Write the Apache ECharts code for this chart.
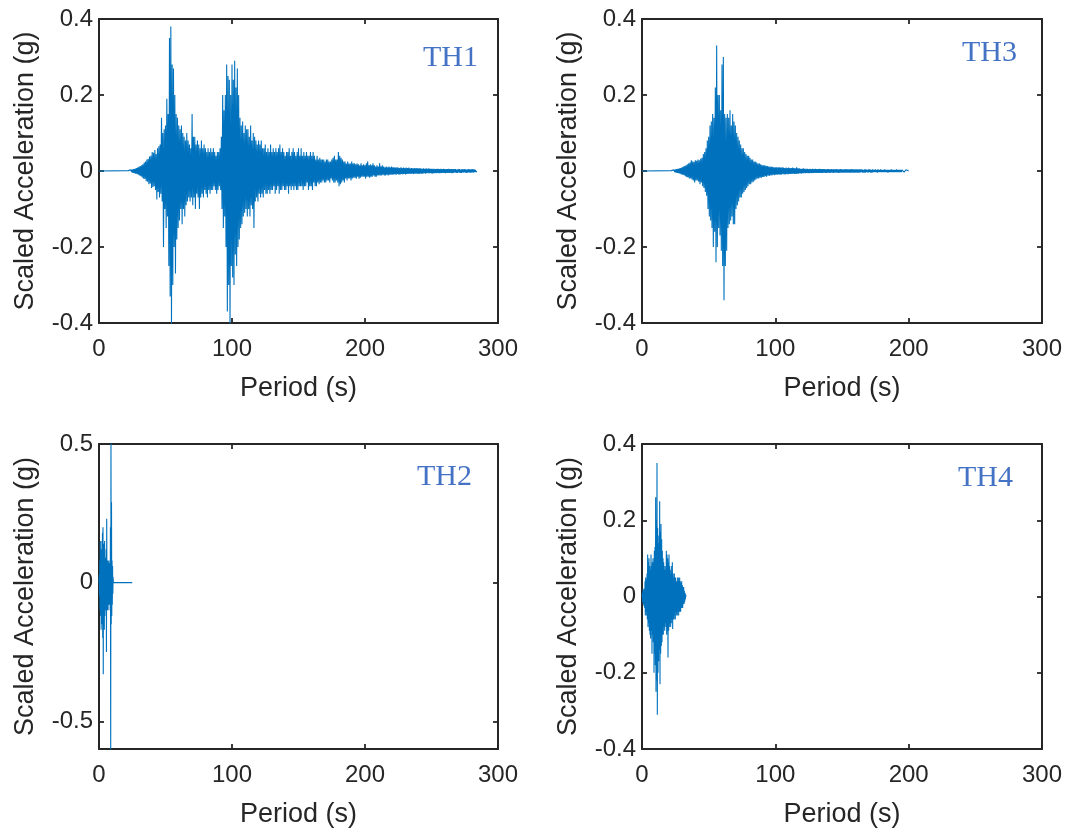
<!DOCTYPE html>
<html><head><meta charset="utf-8">
<script src="https://cdn.jsdelivr.net/npm/echarts@6/dist/echarts.min.js"></script>
<style>html,body{margin:0;padding:0;background:#fff}#c{width:1085px;height:829px}</style>
</head><body><div id="c"></div>
<script>
// ---------- data ----------
const panelNames = ['TH1', 'TH2', 'TH3', 'TH4'];
const xAxisTitle = 'Period (s)';
const yAxisTitle = 'Scaled Acceleration (g)';
const xTicks = [0, 100, 200, 300];
const yTicks04 = [-0.4, -0.2, 0, 0.2, 0.4];
const yTicksTH2 = [-0.5, 0, 0.5];

// TH1: quiet (0 g) until onset, then one sample per 0.5 s, t = 22 .. 284 s
const th1Onset = 22;
const th1Dt = 0.5;
const th1Values = [
  0.001,-0.002,0.002,-0.003,0.003,-0.003,0.004,-0.005,0.005,-0.006,0.006,-0.007,0.008,-0.008,0.009,-0.01,0.011,-0.012,0.013,-0.014,
  0.015,-0.017,0.018,-0.02,0.022,-0.021,0.025,-0.027,0.03,-0.028,0.032,-0.035,0.038,-0.033,0.04,-0.045,0.05,-0.042,0.048,-0.04,
  0.055,-0.05,0.045,-0.075,0.06,-0.055,0.065,-0.07,0.07,-0.06,0.14,-0.08,0.1,-0.2,0.11,-0.1,0.12,-0.15,0.19,-0.12,
  0.15,-0.25,0.35,-0.33,0.38,-0.41,0.28,-0.3,0.27,-0.2,0.2,-0.27,0.15,-0.18,0.14,-0.15,0.12,-0.13,0.11,-0.1,
  0.12,-0.14,0.1,-0.1,0.09,-0.12,0.08,-0.09,0.1,-0.08,0.08,-0.07,0.07,-0.08,0.06,-0.07,0.15,-0.09,0.09,-0.07,
  0.09,-0.1,0.07,-0.06,0.08,-0.07,0.07,-0.1,0.06,-0.07,0.08,-0.06,0.06,-0.07,0.07,-0.05,0.06,-0.06,0.05,-0.07,
  0.06,-0.05,0.05,-0.06,0.06,-0.05,0.05,-0.05,0.06,-0.04,0.05,-0.05,0.04,-0.06,0.05,-0.05,0.05,-0.04,0.06,-0.05,
  0.09,-0.1,0.2,-0.15,0.16,-0.12,0.2,-0.2,0.28,-0.37,0.25,-0.3,0.24,-0.41,0.2,-0.25,0.28,-0.28,0.24,-0.3,
  0.29,-0.22,0.22,-0.25,0.27,-0.2,0.2,-0.18,0.14,-0.15,0.12,-0.14,0.13,-0.12,0.1,-0.11,0.12,-0.1,0.11,-0.12,
  0.11,-0.1,0.09,-0.12,0.12,-0.09,0.08,-0.1,0.1,-0.15,0.09,-0.08,0.08,-0.07,0.07,-0.08,0.08,-0.06,0.07,-0.07,
  0.08,-0.06,0.06,-0.07,0.06,-0.05,0.07,-0.06,0.05,-0.06,0.06,-0.05,0.05,-0.06,0.07,-0.05,0.05,-0.05,0.06,-0.04,
  0.05,-0.06,0.06,-0.05,0.05,-0.04,0.06,-0.06,0.07,-0.05,0.05,-0.05,0.06,-0.04,0.05,-0.05,0.04,-0.05,0.05,-0.04,
  0.05,-0.06,0.06,-0.04,0.04,-0.05,0.05,-0.04,0.06,-0.05,0.05,-0.04,0.04,-0.05,0.05,-0.05,0.06,-0.04,0.04,-0.04,
  0.06,-0.04,0.04,-0.05,0.05,-0.04,0.04,-0.04,0.05,-0.03,0.04,-0.05,0.04,-0.04,0.05,-0.04,0.04,-0.05,0.05,-0.03,
  0.04,-0.04,0.03,-0.04,0.04,-0.03,0.03,-0.035,0.035,-0.03,0.03,-0.03,0.03,-0.025,0.03,-0.03,0.025,-0.03,0.03,-0.025,
  0.03,-0.025,0.025,-0.03,0.025,-0.02,0.03,-0.025,0.035,-0.03,0.04,-0.03,0.03,-0.025,0.03,-0.03,0.05,-0.04,0.04,-0.035,
  0.035,-0.03,0.03,-0.025,0.025,-0.03,0.025,-0.02,0.02,-0.025,0.025,-0.02,0.02,-0.02,0.02,-0.025,0.025,-0.02,0.02,-0.018,
  0.02,-0.018,0.018,-0.02,0.02,-0.015,0.018,-0.02,0.015,-0.018,0.02,-0.015,0.015,-0.015,0.018,-0.015,0.015,-0.02,0.02,-0.015,
  0.025,-0.015,0.015,-0.018,0.018,-0.015,0.015,-0.015,0.02,-0.012,0.015,-0.015,0.012,-0.015,0.015,-0.012,0.012,-0.012,0.02,-0.012,
  0.012,-0.012,0.015,-0.01,0.012,-0.012,0.01,-0.012,0.012,-0.01,0.01,-0.012,0.012,-0.01,0.01,-0.01,0.012,-0.01,0.01,-0.009,
  0.01,-0.009,0.009,-0.01,0.01,-0.008,0.009,-0.01,0.008,-0.009,0.01,-0.008,0.008,-0.009,0.009,-0.008,0.008,-0.009,0.009,-0.008,
  0.008,-0.008,0.009,-0.007,0.007,-0.008,0.008,-0.007,0.007,-0.008,0.008,-0.007,0.007,-0.007,0.008,-0.007,0.007,-0.008,0.007,-0.007,
  0.007,-0.007,0.006,-0.007,0.007,-0.006,0.006,-0.007,0.007,-0.006,0.006,-0.006,0.007,-0.006,0.006,-0.006,0.006,-0.007,0.006,-0.006,
  0.006,-0.006,0.005,-0.006,0.006,-0.005,0.006,-0.006,0.005,-0.006,0.006,-0.005,0.005,-0.005,0.006,-0.005,0.005,-0.006,0.005,-0.005,
  0.005,-0.005,0.006,-0.005,0.005,-0.005,0.005,-0.006,0.005,-0.005,0.005,-0.004,0.005,-0.005,0.004,-0.005,0.005,-0.004,0.005,-0.005,
  0.004,-0.005,0.005,-0.004,0.004,-0.004,0.005,-0.004,0.004,-0.005,0.004,-0.004,0.005,-0.004,0.004,-0.004,0.004,-0.004,0.005,-0.004,
  0.004,-0.003,0.003,-0.003,0
];

// TH2: one sample per 0.2 s, t = 0 .. 10.8 s, then quiet record to 25 s
const th2Dt = 0.2;
const th2Values = [
  0,0.03,-0.05,0.08,-0.1,0.15,-0.12,0.1,-0.17,0.12,
  -0.1,0.15,-0.15,0.18,-0.2,0.2,-0.33,0.14,-0.12,0.1,
  -0.17,0.15,-0.12,0.08,-0.1,0.09,-0.08,0.12,-0.25,0.23,
  -0.1,0.08,-0.09,0.07,-0.1,0.08,-0.06,0.07,-0.08,0.06,
  -0.07,0.08,-0.1,0.2,-0.65,0.55,-0.15,0.29,-0.12,0.08,
  -0.08,0.06,-0.04,0.02,0
];
const th2RecordEnd = 25;

// TH3: quiet (0 g) until onset, then one sample per 0.5 s, t = 22 .. 200 s
const th3Onset = 22;
const th3Dt = 0.5;
const th3Values = [
  0.001,-0.002,0.002,-0.002,0.003,-0.003,0.004,-0.004,0.005,-0.005,0.006,-0.006,0.007,-0.007,0.008,-0.009,0.01,-0.01,0.012,-0.011,
  0.013,-0.014,0.015,-0.016,0.018,-0.017,0.02,-0.02,0.022,-0.02,0.028,-0.022,0.025,-0.025,0.024,-0.03,0.028,-0.025,0.027,-0.025,
  0.03,-0.028,0.028,-0.035,0.032,-0.03,0.035,-0.04,0.045,-0.045,0.05,-0.055,0.06,-0.065,0.08,-0.1,0.09,-0.12,0.12,-0.13,
  0.13,-0.15,0.15,-0.2,0.14,-0.16,0.22,-0.24,0.33,-0.2,0.2,-0.15,0.2,-0.17,0.16,-0.21,0.28,-0.25,0.3,-0.34,
  0.15,-0.25,0.14,-0.21,0.15,-0.15,0.14,-0.14,0.16,-0.13,0.12,-0.12,0.15,-0.14,0.13,-0.14,0.12,-0.1,0.1,-0.09,
  0.09,-0.08,0.08,-0.07,0.07,-0.07,0.06,-0.06,0.06,-0.055,0.05,-0.05,0.045,-0.045,0.04,-0.04,0.04,-0.035,0.035,-0.035,
  0.03,-0.03,0.03,-0.028,0.025,-0.025,0.025,-0.022,0.022,-0.02,0.02,-0.02,0.02,-0.018,0.018,-0.018,0.016,-0.016,0.015,-0.016,
  0.015,-0.014,0.014,-0.015,0.013,-0.012,0.012,-0.013,0.012,-0.011,0.011,-0.012,0.011,-0.01,0.01,-0.011,0.01,-0.01,0.01,-0.01,
  0.01,-0.009,0.01,-0.01,0.009,-0.01,0.01,-0.008,0.009,-0.009,0.008,-0.009,0.009,-0.008,0.008,-0.009,0.009,-0.008,0.008,-0.008,
  0.008,-0.008,0.009,-0.007,0.008,-0.008,0.007,-0.008,0.01,-0.007,0.007,-0.007,0.007,-0.006,0.006,-0.007,0.006,-0.006,0.007,-0.006,
  0.006,-0.006,0.006,-0.005,0.006,-0.006,0.005,-0.006,0.006,-0.005,0.005,-0.006,0.006,-0.005,0.005,-0.005,0.006,-0.005,0.005,-0.005,
  0.005,-0.005,0.006,-0.005,0.005,-0.005,0.005,-0.005,0.005,-0.004,0.005,-0.005,0.004,-0.005,0.005,-0.004,0.005,-0.005,0.004,-0.004,
  0.005,-0.004,0.004,-0.005,0.005,-0.004,0.004,-0.004,0.005,-0.004,0.004,-0.005,0.004,-0.004,0.005,-0.004,0.004,-0.004,0.004,-0.004,
  0.004,-0.004,0.005,-0.004,0.004,-0.004,0.004,-0.004,0.004,-0.004,0.005,-0.004,0.004,-0.004,0.004,-0.004,0.004,-0.004,0.004,-0.004,
  0.004,-0.004,0.004,-0.004,0.004,-0.003,0.004,-0.004,0.003,-0.004,0.004,-0.004,0.004,-0.003,0.003,-0.004,0.004,-0.003,0.004,-0.004,
  0.003,-0.004,0.004,-0.003,0.003,-0.003,0.004,-0.003,0.003,-0.004,0.004,-0.003,0.003,-0.003,0.004,-0.003,0.003,-0.003,0.003,-0.003,
  0.004,-0.003,0.003,-0.003,0.003,-0.004,0.003,-0.003,0.003,-0.003,0.004,-0.003,0.003,-0.003,0.003,-0.003,0.003,-0.003,0.004,-0.003,
  0.003,-0.003,0.003,-0.003,0.003,-0.003,0.003,-0.002,0.003,-0.003,0.002,-0.003,0.003,-0.002,0.002,-0.002,0
];

// TH4: one sample per 0.25 s, t = 0 .. 33 s
const th4Dt = 0.25;
const th4Values = [
  0,0.01,-0.015,0.02,-0.02,0.015,-0.025,0.02,
  -0.03,0.04,-0.05,0.05,-0.04,0.045,-0.05,0.06,
  -0.06,0.11,-0.08,0.09,-0.07,0.1,-0.09,0.08,
  -0.1,0.07,-0.11,0.11,-0.09,0.08,-0.15,0.09,
  -0.1,0.1,-0.12,0.09,-0.2,0.12,-0.15,0.13,
  -0.18,0.26,-0.25,0.2,-0.22,0.35,-0.31,0.18,
  -0.2,0.14,-0.17,0.16,-0.14,0.25,-0.23,0.17,
  -0.15,0.19,-0.13,0.15,-0.12,0.12,-0.1,0.1,
  -0.1,0.09,-0.08,0.07,-0.09,0.08,-0.07,0.07,
  -0.08,0.12,-0.1,0.11,-0.09,0.1,-0.16,0.09,
  -0.09,0.11,-0.08,0.08,-0.07,0.07,-0.08,0.06,
  -0.07,0.08,-0.06,0.09,-0.085,0.06,-0.06,0.05,
  -0.06,0.06,-0.05,0.05,-0.06,0.05,-0.04,0.04,
  -0.05,0.04,-0.05,0.05,-0.04,0.05,-0.05,0.04,
  -0.04,0.05,-0.04,0.04,-0.04,0.035,-0.03,0.04,
  -0.03,0.03,-0.03,0.025,-0.02,0.025,-0.02,0.015,
  -0.015,0.01,-0.008,0.005,0
];

// ---------- chart ----------
function toPairs(values, dt, t0) { return values.map((v, i) => [+((t0 || 0) + i * dt).toFixed(3), v]); }

const INK = '#262626';
const LINE = '#0072BD';
const TICKFONT = 24, TITLEFONT = 27;
const FONT = 'Liberation Sans, Arial, sans-serif';

const panels = [
  { name: panelNames[0], data: [[0, 0]].concat(toPairs(th1Values, th1Dt, th1Onset)), yMin: -0.4, yMax: 0.4, yTicks: yTicks04,
    grid: { left: 99, top: 19, width: 399, height: 304 }, label: { right: 602, top: 38 } },
  { name: panelNames[1], data: toPairs(th2Values, th2Dt).concat([[th2RecordEnd, 0]]), yMin: -0.6, yMax: 0.5, yTicks: yTicksTH2,
    grid: { left: 99, top: 444, width: 399, height: 306 }, label: { right: 608, top: 457 } },
  { name: panelNames[2], data: [[0, 0]].concat(toPairs(th3Values, th3Dt, th3Onset)), yMin: -0.4, yMax: 0.4, yTicks: yTicks04,
    grid: { left: 642, top: 19, width: 400, height: 304 }, label: { right: 63, top: 33 } },
  { name: panelNames[3], data: toPairs(th4Values, th4Dt), yMin: -0.4, yMax: 0.4, yTicks: yTicks04,
    grid: { left: 642, top: 444, width: 400, height: 306 }, label: { right: 67, top: 458 } }
];

const option = { animation: false, backgroundColor: '#fff', grid: [], xAxis: [], yAxis: [], series: [], title: [] };
panels.forEach((p, i) => {
  option.grid.push(Object.assign({ containLabel: false }, p.grid));
  const lineStyle = { color: INK, width: 2 };
  const tick = (vals) => ({ show: true, inside: true, length: 5, lineStyle: { color: INK, width: 1.8 }, customValues: vals });
  option.xAxis.push({ type: 'value', gridIndex: i, position: 'bottom', min: 0, max: 300, interval: 100,
    axisLine: { show: true, onZero: false, lineStyle }, axisTick: tick(xTicks), splitLine: { show: false },
    axisLabel: { show: true, customValues: xTicks, color: INK, fontSize: TICKFONT, fontFamily: FONT, margin: 14 },
    name: xAxisTitle, nameLocation: 'middle', nameGap: 52,
    nameTextStyle: { color: INK, fontSize: TITLEFONT, fontFamily: FONT } });
  option.xAxis.push({ type: 'value', gridIndex: i, position: 'top', min: 0, max: 300, interval: 100,
    axisLine: { show: true, onZero: false, lineStyle }, axisTick: tick(xTicks), splitLine: { show: false },
    axisLabel: { show: false } });
  option.yAxis.push({ type: 'value', gridIndex: i, position: 'left', min: p.yMin, max: p.yMax,
    axisLine: { show: true, onZero: false, lineStyle }, axisTick: tick(p.yTicks), splitLine: { show: false },
    axisLabel: { show: true, customValues: p.yTicks, color: INK, fontSize: TICKFONT, fontFamily: FONT, margin: 6 },
    name: yAxisTitle, nameLocation: 'middle', nameGap: 60,
    nameTextStyle: { color: INK, fontSize: TITLEFONT, fontFamily: FONT } });
  option.yAxis.push({ type: 'value', gridIndex: i, position: 'right', min: p.yMin, max: p.yMax,
    axisLine: { show: true, onZero: false, lineStyle }, axisTick: tick(p.yTicks), splitLine: { show: false },
    axisLabel: { show: false } });
  option.series.push({ type: 'line', xAxisIndex: 2 * i, yAxisIndex: 2 * i, data: p.data,
    showSymbol: false, symbol: 'none', sampling: null, clip: true,
    lineStyle: { color: LINE, width: 1.1 } });
  option.title.push({ text: p.name, right: p.label.right, top: p.label.top,
    textStyle: { color: '#4472C4', fontFamily: 'Liberation Serif, Times New Roman, serif', fontWeight: 'normal', fontSize: 30 } });
});

const chart = echarts.init(document.getElementById('c'), null, { renderer: 'canvas' });
chart.setOption(option);
</script>
</body></html>
